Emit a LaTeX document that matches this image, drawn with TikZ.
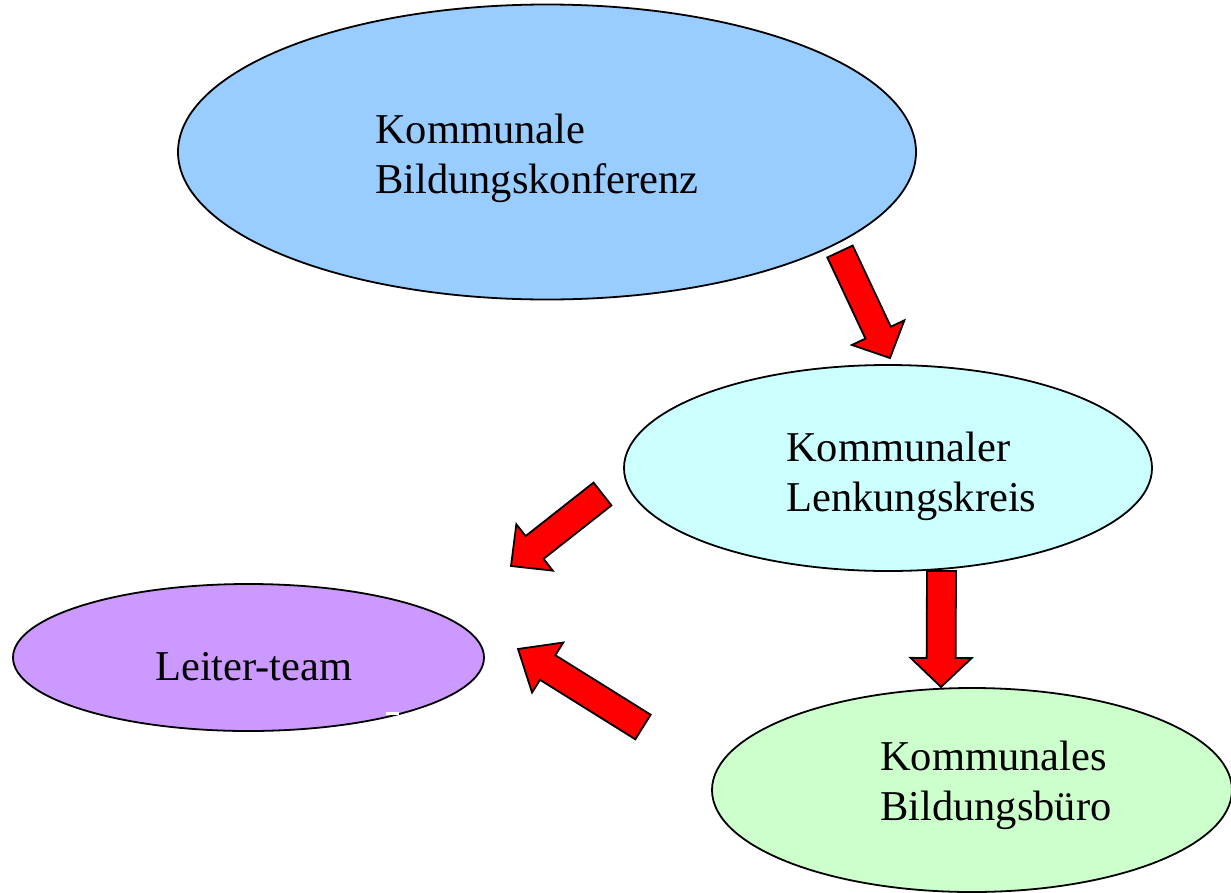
\documentclass[tikz,border=0pt]{standalone}
\usepackage{fontspec}
\setmainfont{Liberation Serif}
\usetikzlibrary{shapes.geometric,calc}
\definecolor{cblue}{HTML}{99CCFF}
\definecolor{ccyan}{HTML}{CCFFFF}
\definecolor{cpurple}{HTML}{CC99FF}
\definecolor{cgreen}{HTML}{CCFFCC}
\tikzset{
  oval/.style={ellipse, draw=black, line width=1.8pt, inner sep=0pt},
  lbl/.style={anchor=base west, align=left, inner sep=0pt, font=\fontsize{42.5}{50}\selectfont},
  barrow/.style={fill=red, draw=black, line width=1.8pt, line join=miter},
}
\newcommand\blockarrow[5]{%
  \path ($(#2)!#5!(#1)$) coordinate (hb);
  \draw[barrow] ($(#1)!#3!90:(#2)$) -- ($(hb)!#3!90:(#2)$) -- ($(hb)!#4!90:(#2)$) -- (#2)
    -- ($(hb)!#4!-90:(#2)$) -- ($(hb)!#3!-90:(#2)$) -- ($(#1)!#3!-90:(#2)$) -- cycle;}
\begin{document}
\begin{tikzpicture}[x=1pt,y=-1pt]
\useasboundingbox[fill=white] (0,0) rectangle (1231,892);
% ellipses
\node[oval, fill=cblue, minimum width=738pt, minimum height=295pt] (konf) at (547,152) {};
\node[oval, fill=ccyan, minimum width=528pt, minimum height=206pt] (lenk) at (888,468) {};
\node[oval, fill=cpurple, minimum width=471pt, minimum height=147pt] (leit) at (248.5,657.5) {};
\node[oval, fill=cgreen, minimum width=520pt, minimum height=204pt] (buero) at (972,790) {};
\fill[white] (386,712.3) rectangle (398.5,715.3);
% labels (anchor at baseline of last line)
\node[lbl] (tkonf) at (375,193.5) {Kommunale\\Bildungskonferenz};
\node[lbl] (tlenk) at (786,511.5) {Kommunaler\\Lenkungskreis};
\node[lbl] (tleit) at (155,680) {Leiter-team};
\node[lbl] (tbuero) at (880,820) {Kommunales\\Bildungsbüro};
% arrow end points
\coordinate (a1t) at (840,251.5); \coordinate (a1p) at (890,358);
\coordinate (a2t) at (602.5,494); \coordinate (a2p) at (511,566);
\coordinate (a3t) at (941.5,571); \coordinate (a3p) at (941,687);
\coordinate (a4t) at (643,727);   \coordinate (a4p) at (518,649);
\blockarrow{a1t}{a1p}{14pt}{29pt}{28pt}
\blockarrow{a2t}{a2p}{14.5pt}{29.5pt}{30pt}
\blockarrow{a3t}{a3p}{14.5pt}{30.5pt}{29pt}
\blockarrow{a4t}{a4p}{14.5pt}{29.5pt}{35pt}
\end{tikzpicture}
\end{document}
